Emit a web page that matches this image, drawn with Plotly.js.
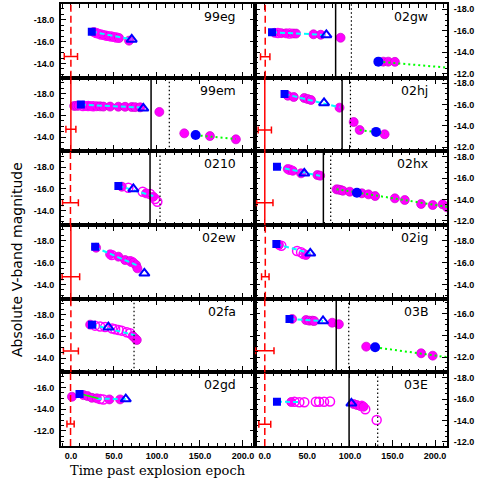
<!DOCTYPE html>
<html><head><meta charset="utf-8">
<script src="https://cdn.plot.ly/plotly-3.0.1.min.js"></script>
<style>html,body{margin:0;padding:0;background:#fff}#chart{width:491px;height:491px}</style>
</head><body><div id="chart"></div>
<script>
// ---------- panels (row by row, left then right) ----------
const panelNames = ['99eg','02gw','99em','02hj','0210','02hx','02ew','02ig','02fa','03B','02gd','03E'];
const yBottom = [-12.7,-11.6,-12.7,-11.6,-12.7,-11.6,-12.7,-12.7,-12.7,-10.6,-10.6,-11.6];
const yTop    = [-19.45,-18.5,-19.45,-18.5,-19.45,-18.5,-19.45,-19.45,-19.45,-17.4,-17.4,-18.5];

// ---------- ticks ----------
const xTickVals = [0,50,100,150,200];
const xTickText = ['0.0','50.0','100.0','150.0','200.0'];
const yTickVals = [-18,-16,-14,-12];
const yTickText = ['-18.0','-16.0','-14.0','-12.0'];

// ---------- explosion epoch and its uncertainty ----------
const explDay      = [0,0.5,0,0,-0.5,0,0,0.6,0,0,-0.4,0];
const explErrMinus = [7.7,5.5,5.8,7.8,9.2,9.6,10.2,4.4,8.7,10.8,4.2,7];
const explErrPlus  = [7.7,5.5,5.8,7.8,9.2,9.6,10.2,4.4,8.7,10.8,4.2,7];
const explErrMag   = [-14.65,-13.57,-14.72,-13.6,-14.74,-13.69,-14.71,-14.71,-14.66,-12.6,-12.63,-13.63];
const explDash     = ['dash','dash','solid','solid','dash','solid','solid','dash','dash','dash','dash','dash'];

// ---------- end of plateau (solid) and onset of tail (dotted) ----------
const plateauEndDay = [null,83.2,93.2,90.8,92,68.8,null,null,null,83.9,null,99];
const tailOnsetDay  = [null,101.7,114.4,100.6,103.6,77.4,null,null,73.4,98.6,null,132.6];

// ---------- plateau fit (cyan dashed) ----------
const cyanDay0 = [24.3,8.5,11.6,23.2,55.2,14.3,28.2,13.6,24.5,29,30,14.3];
const cyanDay1 = [70.7,72.3,84.2,87.8,95.8,65,77,53.4,74.6,68.4,64,41];
const cyanMag0 = [-16.92,-15.85,-16.98,-16.97,-16.3,-17.06,-17.4,-17.7,-17.07,-15.53,-14.97,-15.75];
const cyanMag1 = [-16.2,-15.6,-16.7,-15.72,-15.35,-16.2,-15.75,-16.86,-16.1,-15.34,-14.93,-15.72];

// ---------- radioactive tail fit (green dotted) ----------
const greenDay0 = [null,133.4,145,111.4,null,84.3,null,null,null,129.6,null,null];
const greenDay1 = [null,214,191.8,140.7,null,214,null,null,null,214,null,null];
const greenMag0 = [null,-13.1,-14.18,-13.6,null,-14.95,null,null,null,-12.91,null,null];
const greenMag1 = [null,-12.54,-13.82,-13.28,null,-13.3,null,null,null,-12.0,null,null];

// ---------- early fit of 02gd (green solid) ----------
const riseFitDay = [14,32];
const riseFitMag = [-15.35,-14.98];

// ---------- photometry: F filled, O open (magenta); S square, T triangle, B circle (blue) ----------
const d99eg = [24.3,26.5,29.5,32,35,38,41,44,47,50,53,56,67.6,70.7];
const m99eg = [-16.91,-16.88,-16.8,-16.72,-16.66,-16.6,-16.55,-16.5,-16.47,-16.42,-16.38,-16.33,-16.09,-16.2];
const s99eg = ['S','F','O','F','O','F','O','F','O','F','O','F','F','T'];

const d02gw = [8.5,11.6,15.5,19.3,25,29,33,36.7,57.2,65.7,72.3,89,133.4,139.2,145,152.8];
const m02gw = [-15.85,-15.8,-15.78,-15.77,-15.75,-15.74,-15.74,-15.73,-15.66,-15.62,-15.6,-15.34,-13.1,-13.1,-13.1,-13.08];
const s02gw = ['S','F','O','F','F','O','F','F','F','F','T','F','B','F','F','F'];

const d99em = [3.8,6.5,9,11.6,14,17,20,23,26,30,34,37.8,45.6,55.2,63,70.8,74.7,80.5,84.2,102.8,131.8,145,161.6,191.8];
const m99em = [-16.86,-16.87,-16.88,-17.0,-16.86,-16.85,-16.86,-16.84,-16.83,-16.83,-16.82,-16.8,-16.8,-16.79,-16.78,-16.76,-16.75,-16.73,-16.64,-16.31,-14.35,-14.2,-14.1,-13.8];
const s99em = ['F','F','F','S','O','F','O','F','O','F','F','F','F','F','F','F','F','F','T','F','F','B','F','F'];

const d02hj = [23.2,27,34,46.4,50.3,54.2,69.6,87.8,104.4,111.4,130.7,140.7];
const m02hj = [-16.97,-16.81,-16.69,-16.6,-16.5,-16.41,-16.13,-15.69,-14.35,-13.6,-13.42,-13.2];
const s02hj = ['S','F','F','F','F','F','T','F','F','F','B','F'];

const d0210 = [55.2,59.2,66.8,72.6,83.5,87.4,92,95.8,97.8,100.5];
const m0210 = [-16.27,-16.21,-16.12,-16.0,-15.75,-15.6,-15.54,-15.29,-15.08,-14.83];
const s0210 = ['S','F','O','T','O','F','O','F','O','O'];

const d02hx = [14.3,27,29.5,32.8,42.6,46.4,61.8,65,84.3,86.5,89,91.6,99.8,108.2,114,121.8,129.6,152.8,164.4,183.6,197.2,208.8,214];
const m02hx = [-17.06,-16.84,-16.78,-16.68,-16.44,-16.44,-16.28,-16.22,-14.94,-14.92,-14.88,-14.81,-14.72,-14.62,-14.57,-14.47,-14.31,-14.1,-13.94,-13.57,-13.47,-13.54,-13.26];
const s02hx = ['S','F','O','F','F','T','F','F','F','F','F','F','F','B','F','F','F','F','F','F','F','F','F'];

const d02ew = [28.2,29.3,45.6,47.5,55.2,63,68.8,70.5,72.6,75.8,77.3,85.4];
const m02ew = [-17.46,-17.37,-16.76,-16.7,-16.55,-16.24,-16.15,-16.08,-16.0,-15.78,-15.48,-15.02];
const s02ew = ['S','F','F','O','F','F','F','O','F','F','F','T'];

const d02ig = [13.6,16.6,19.4,37.9,42.6,45.6,48.4,53.4];
const m02ig = [-17.71,-17.62,-17.55,-17.07,-16.95,-16.79,-16.7,-16.86];
const s02ig = ['S','F','O','O','O','O','F','T'];

const d02fa = [22.4,24.5,28,34,39.8,43.6,48,51.4,55.5,59.2,65,68.8,71.9,74.6,76.6];
const m02fa = [-17.07,-17.07,-16.98,-16.9,-16.86,-16.83,-16.72,-16.64,-16.58,-16.52,-16.37,-16.28,-16.03,-15.82,-15.66];
const s02fa = ['F','S','O','O','O','T','O','O','O','O','O','O','F','F','F'];

const d03B = [29,32.1,48.4,52.2,56,58,68.4,79.2,87,119.1,129.6,183.6,197.2];
const m03B = [-15.53,-15.53,-15.43,-15.37,-15.37,-15.34,-15.34,-15.18,-15.04,-12.97,-12.91,-12.36,-12.14];
const s03B = ['S','F','F','F','F','F','T','F','F','F','B','F','F'];

const d02gd = [1.2,10,14.6,19.3,24.4,30.2,34,37.8,44.8,57.2,63.8];
const m02gd = [-15.15,-15.4,-15.3,-15.21,-15.05,-15.0,-14.93,-14.9,-14.9,-14.9,-14.93];
const s02gd = ['F','S','F','F','F','F','O','O','F','F','T'];

const d03E = [14.3,31,34.8,40.6,46.4,60,63.8,69.6,76.6,101.7,104.4,108.2,112.2,114,116,118,131.4];
const m03E = [-15.75,-15.72,-15.74,-15.7,-15.7,-15.74,-15.74,-15.74,-15.76,-15.6,-15.53,-15.44,-15.34,-15.36,-15.28,-15.04,-14.03];
const s03E = ['S','F','O','O','O','O','O','O','O','T','F','F','F','O','F','O','O'];

const photDay = [d99eg,d02gw,d99em,d02hj,d0210,d02hx,d02ew,d02ig,d02fa,d03B,d02gd,d03E];
const photMag = [m99eg,m02gw,m99em,m02hj,m0210,m02hx,m02ew,m02ig,m02fa,m03B,m02gd,m03E];
const photSym = [s99eg,s02gw,s99em,s02hj,s0210,s02hx,s02ew,s02ig,s02fa,s03B,s02gd,s03E];

// ---------- build ----------
const MAG = '#ff00ff', BLUE = '#0000ff', RED = '#ff0000', CYAN = '#00ffff', GREEN = '#00ff00';
const xRange = [-11.5, 214];
const xSplit = 194/386;
const tickFont = {family:'Liberation Sans, Arial, sans-serif', size:9, color:'#000'};
const bold = arr => arr.map(t => '<b>' + t + '</b>');
const traces = [], shapes = [], annotations = [];
const layout = {
  width:491, height:491, margin:{l:61,r:44,t:4,b:45},
  paper_bgcolor:'#fff', plot_bgcolor:'#fff', showlegend:false
};

for (let i = 0; i < 12; i++) {
  const r = Math.floor(i/2), c = i % 2;
  const id = i === 0 ? '' : String(i+1);
  const xa = 'x'+id, ya = 'y'+id;
  const days = photDay[i], mags = photMag[i], syms = photSym[i];
  const pick = code => {
    const x = [], y = [];
    syms.forEach((s,k) => { if (s === code) { x.push(days[k]); y.push(mags[k]); } });
    return {x, y};
  };
  const base = {type:'scatter', xaxis:xa, yaxis:ya, hoverinfo:'skip', cliponaxis:true};

  let p = pick('F');
  traces.push(Object.assign({}, base, {mode:'markers', x:p.x, y:p.y,
    marker:{symbol:'circle', size:9, color:MAG, line:{color:'#d000d0', width:0.7}}}));
  p = pick('O');
  traces.push(Object.assign({}, base, {mode:'markers', x:p.x, y:p.y,
    marker:{symbol:'circle-open', size:9, color:MAG, line:{color:MAG, width:1.5}}}));

  if (cyanDay0[i] !== null) traces.push(Object.assign({}, base, {mode:'lines',
    x:[cyanDay0[i], cyanDay1[i]], y:[cyanMag0[i], cyanMag1[i]],
    line:{color:CYAN, width:2, dash:'5px,3px'}}));
  if (greenDay0[i] !== null) traces.push(Object.assign({}, base, {mode:'lines',
    x:[greenDay0[i], greenDay1[i]], y:[greenMag0[i], greenMag1[i]],
    line:{color:GREEN, width:2, dash:'2px,3px'}}));
  if (panelNames[i] === '02gd') traces.push(Object.assign({}, base, {mode:'lines',
    x:riseFitDay, y:riseFitMag, line:{color:GREEN, width:1.5}}));

  p = pick('S');
  traces.push(Object.assign({}, base, {mode:'markers', x:p.x, y:p.y,
    marker:{symbol:'square', size:8, color:BLUE}}));
  p = pick('T');
  traces.push(Object.assign({}, base, {mode:'markers', x:p.x, y:p.y,
    marker:{symbol:'triangle-up-open', size:9, color:BLUE, line:{color:BLUE, width:2}}}));
  p = pick('B');
  traces.push(Object.assign({}, base, {mode:'markers', x:p.x, y:p.y,
    marker:{symbol:'circle', size:10, color:BLUE}}));

  // explosion epoch uncertainty
  traces.push(Object.assign({}, base, {mode:'markers', x:[explDay[i]], y:[explErrMag[i]],
    marker:{size:1, color:'rgba(0,0,0,0)'},
    error_x:{type:'data', symmetric:false, array:[explErrPlus[i]], arrayminus:[explErrMinus[i]],
             color:RED, thickness:1.5, width:3.5}}));

  shapes.push({type:'line', xref:xa, yref:ya+' domain', x0:explDay[i], x1:explDay[i], y0:0, y1:1,
    line:{color:RED, width:1.5, dash: explDash[i] === 'dash' ? '7px,4px' : 'solid'}});
  if (plateauEndDay[i] !== null) shapes.push({type:'line', xref:xa, yref:ya+' domain',
    x0:plateauEndDay[i], x1:plateauEndDay[i], y0:0, y1:1, line:{color:'#000', width:1.5}});
  if (tailOnsetDay[i] !== null) shapes.push({type:'line', xref:xa, yref:ya+' domain',
    x0:tailOnsetDay[i], x1:tailOnsetDay[i], y0:0, y1:1, line:{color:'#000', width:1.2, dash:'1.5px,2.5px'}});

  annotations.push({xref:xa+' domain', yref:ya+' domain', x:0.91, y:0.83, xanchor:'right', yanchor:'middle',
    text:panelNames[i], showarrow:false, font:{family:'DejaVu Sans, sans-serif', size:12.5, color:'#000'}});

  layout['xaxis'+id] = {
    domain: c === 0 ? [0, xSplit] : [xSplit, 1], anchor: ya, range: xRange,
    tickmode:'array', tickvals:xTickVals, ticktext:bold(xTickText), showticklabels: r === 5,
    ticks:'inside', ticklen:6, tickwidth:1, tickcolor:'#000',
    minor:{tickmode:'linear', tick0:0, dtick:10, ticks:'inside', ticklen:3.5, tickwidth:1, tickcolor:'#000'},
    showline:true, linecolor:'#000', linewidth:2, mirror:'ticks',
    showgrid:false, zeroline:false, tickfont:tickFont, ticklabelstandoff:0, fixedrange:true
  };
  layout['yaxis'+id] = {
    domain:[1-(r+1)/6, 1-r/6], anchor: xa, range:[yBottom[i], yTop[i]],
    side: c === 0 ? 'left' : 'right',
    tickmode:'array', tickvals:yTickVals, ticktext:bold(yTickText),
    ticks:'inside', ticklen:5, tickwidth:1, tickcolor:'#000',
    minor:{tickmode:'linear', tick0:0, dtick:0.5, ticks:'inside', ticklen:2.5, tickwidth:1, tickcolor:'#000'},
    showline:true, linecolor:'#000', linewidth:2, mirror:'ticks',
    showgrid:false, zeroline:false, tickfont:tickFont, ticklabelstandoff:3, fixedrange:true
  };
}

annotations.push({xref:'paper', yref:'paper', x:(158-61)/386, y:(446-470)/442, xanchor:'center', yanchor:'middle',
  text:'Time past explosion epoch', showarrow:false, font:{family:'DejaVu Serif, serif', size:13, color:'#000'}});
annotations.push({xref:'paper', yref:'paper', x:(17-61)/386, y:(446-260)/442, xanchor:'center', yanchor:'middle',
  textangle:-90, text:'Absolute V-band magnitude', showarrow:false, font:{family:'DejaVu Sans, sans-serif', size:14, color:'#000'}});

layout.shapes = shapes;
layout.annotations = annotations;

Plotly.newPlot('chart', traces, layout, {staticPlot:true, displayModeBar:false});
</script></body></html>
